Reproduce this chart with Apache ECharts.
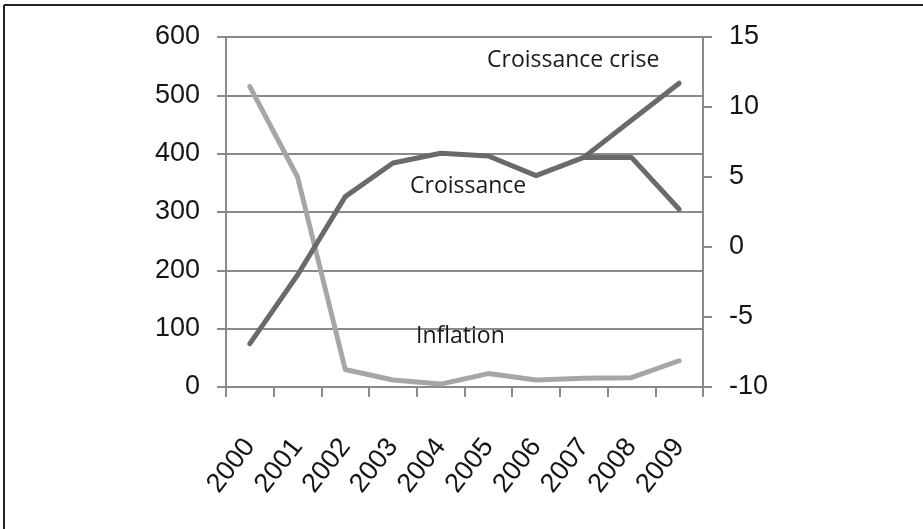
<!DOCTYPE html>
<html>
<head>
<meta charset="utf-8">
<style>
html,body{margin:0;padding:0;background:#fff;}
#chart{width:923px;height:529px;}
</style>
<script src="https://cdn.jsdelivr.net/npm/echarts@6/dist/echarts.min.js"></script>
</head>
<body>
<div id="chart"></div>
<script>
var years = ['2000','2001','2002','2003','2004','2005','2006','2007','2008','2009'];
var inflation = [515, 360, 30, 12, 5, 23, 12, 15, 16, 45];
var croissance = [-6.9, -2.0, 3.6, 6.0, 6.7, 6.5, 5.1, 6.4, 6.4, 2.7];
var croissanceCrise = [null, null, null, null, null, null, null, 6.4, 9.05, 11.7];
var leftTicks = {min: 0, max: 600, interval: 100};
var rightTicks = {min: -10, max: 15, interval: 5};

var gridColor = '#8a8a8a';
var labelFont = '"Liberation Sans", Arial, sans-serif';
var annFont = '"Open Sans", "Noto Sans", sans-serif';

var chart = echarts.init(document.getElementById('chart'), null, {renderer: 'canvas'});
chart.setOption({
  animation: false,
  backgroundColor: '#fff',
  grid: {left: 226, right: 220, top: 37, bottom: 142, containLabel: false},
  xAxis: {
    type: 'category',
    data: years,
    boundaryGap: true,
    axisLine: {show: true, lineStyle: {color: gridColor, width: 2}},
    axisTick: {show: true, length: 10, lineStyle: {color: gridColor, width: 2}},
    axisLabel: {
      rotate: 52, margin: 55,
      fontFamily: labelFont, fontSize: 27, color: '#151515', interval: 0
    },
    splitLine: {show: false}
  },
  yAxis: [{
    type: 'value',
    min: leftTicks.min, max: leftTicks.max, interval: leftTicks.interval,
    position: 'left',
    axisLine: {show: true, lineStyle: {color: gridColor, width: 2}},
    axisTick: {show: true, length: 9, lineStyle: {color: gridColor, width: 2}},
    axisLabel: {fontFamily: labelFont, fontSize: 27, color: '#151515', margin: 26},
    splitLine: {show: true, lineStyle: {color: gridColor, width: 2}}
  }, {
    type: 'value',
    min: rightTicks.min, max: rightTicks.max, interval: rightTicks.interval,
    position: 'right',
    axisLine: {show: true, lineStyle: {color: gridColor, width: 2}},
    axisTick: {show: true, length: 9, lineStyle: {color: gridColor, width: 2}},
    axisLabel: {fontFamily: labelFont, fontSize: 27, color: '#151515', margin: 26},
    splitLine: {show: false}
  }],
  series: [{
    name: 'Inflation', type: 'line', yAxisIndex: 0, data: inflation,
    symbol: 'none', lineStyle: {color: '#a6a6a6', width: 5, cap: 'round', join: 'round'}, z: 3
  }, {
    name: 'Croissance', type: 'line', yAxisIndex: 1, data: croissance,
    symbol: 'none', lineStyle: {color: '#6a6a6a', width: 5, cap: 'round', join: 'round'}, z: 4
  }, {
    name: 'Croissance crise', type: 'line', yAxisIndex: 1, data: croissanceCrise,
    symbol: 'none', connectNulls: false,
    lineStyle: {color: '#6a6a6a', width: 5, cap: 'round', join: 'round'}, z: 4
  }],
  graphic: [
    {type: 'line', shape: {x1: 4, y1: 5, x2: 923, y2: 5}, style: {stroke: '#222', lineWidth: 2}, silent: true},
    {type: 'line', shape: {x1: 4, y1: 5, x2: 4, y2: 529}, style: {stroke: '#222', lineWidth: 2}, silent: true},
    {type: 'text', left: 487, top: 49, style: {text: 'Croissance crise', font: '23px ' + annFont, fill: '#1a1a1a'}, z: 10},
    {type: 'text', left: 410, top: 175, style: {text: 'Croissance', font: '23px ' + annFont, fill: '#1a1a1a'}, z: 10},
    {type: 'text', left: 416, top: 325, style: {text: 'Inflation', font: '23px ' + annFont, fill: '#1a1a1a'}, z: 10}
  ]
});
</script>
</body>
</html>
